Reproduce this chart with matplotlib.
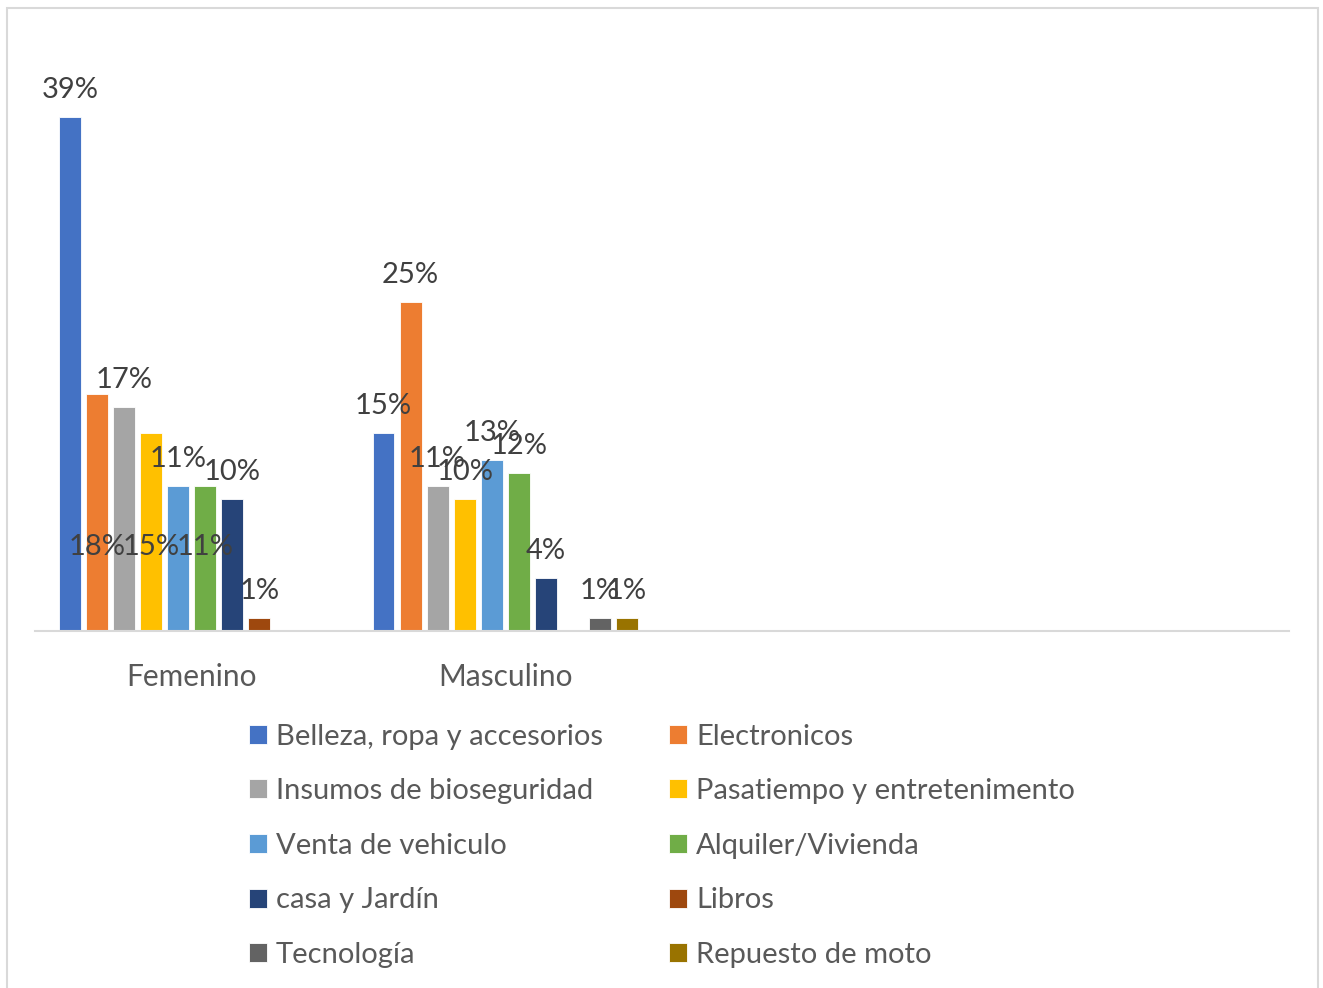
"""
Compras en línea por género y categoría de producto (barras agrupadas).
"""
import matplotlib.pyplot as plt
from matplotlib.patches import Rectangle
import numpy as np

# ------------------------------------------------------------------
# Datos
# ------------------------------------------------------------------
GENEROS = ["Femenino", "Masculino", "", ""]

CATEGORIAS = [
    "Belleza, ropa y accesorios",
    "Electronicos",
    "Insumos de bioseguridad",
    "Pasatiempo y entretenimento",
    "Venta de vehiculo",
    "Alquiler/Vivienda",
    "casa y Jardín",
    "Libros",
    "Tecnología",
    "Repuesto de moto",
]

# porcentaje por categoría: [Femenino, Masculino]
BELLEZA = [39, 15]
ELECTRONICOS = [18, 25]
INSUMOS = [17, 11]
PASATIEMPO = [15, 10]
VENTA_VEHICULO = [11, 13]
ALQUILER = [11, 12]
CASA_JARDIN = [10, 4]
LIBROS = [1, 0]
TECNOLOGIA = [0, 1]
REPUESTO_MOTO = [0, 1]

SERIES = [BELLEZA, ELECTRONICOS, INSUMOS, PASATIEMPO, VENTA_VEHICULO,
          ALQUILER, CASA_JARDIN, LIBROS, TECNOLOGIA, REPUESTO_MOTO]

COLORES = ["#4472C4", "#ED7D31", "#A5A5A5", "#FFC000", "#5B9BD5",
           "#70AD47", "#264478", "#9E480E", "#636363", "#997300"]

# etiquetas que van en la base de la barra (género, categoría)
ETIQUETA_BASE = {(0, 1), (0, 3), (0, 5)}

FUENTE = "Lato"
GRIS_TEXTO = "#404040"
GRIS_EJE = "#595959"
TAM = 21

# ------------------------------------------------------------------
# Gráfico
# ------------------------------------------------------------------
fig = plt.figure(figsize=(13.23, 9.88), dpi=100)
ax = fig.add_axes([35 / 1323, 1 - 631 / 988, (1289 - 35) / 1323, (631 - 38) / 988])

x = np.arange(len(GENEROS))
paso = 0.0863
ancho = 0.070
n = len(SERIES)

for i, (serie, color) in enumerate(zip(SERIES, COLORES)):
    pos = x[:len(serie)] + (i - (n - 1) / 2) * paso
    ax.bar(pos, serie, width=ancho, color=color, label=CATEGORIAS[i],
           edgecolor="white", linewidth=0.6)
    for g, (xp, v) in enumerate(zip(pos, serie)):
        if v == 0:
            continue
        if (g, i) in ETIQUETA_BASE:
            ax.annotate(f"{v}%", (xp, 0), xytext=(0, 54.7), textcoords="offset points",
                        ha="center", va="baseline", fontsize=TAM, color=GRIS_TEXTO,
                        family=FUENTE)
        else:
            ax.annotate(f"{v}%", (xp, v), xytext=(0, 13.7), textcoords="offset points",
                        ha="center", va="baseline", fontsize=TAM, color=GRIS_TEXTO,
                        family=FUENTE)

ax.set_xlim(-0.5, len(GENEROS) - 0.5)
ax.set_ylim(0, 45)
ax.set_xticks(x)
ax.set_xticklabels(GENEROS, fontsize=21.5, color=GRIS_EJE, family=FUENTE)
ax.tick_params(axis="x", length=0, pad=23)
ax.set_yticks([])
for lado in ["top", "right", "left"]:
    ax.spines[lado].set_visible(False)
ax.spines["bottom"].set_color("#D9D9D9")
ax.spines["bottom"].set_linewidth(1.5)

# leyenda en dos columnas, ordenada por filas
handles, labels = ax.get_legend_handles_labels()
orden = list(range(0, n, 2)) + list(range(1, n, 2))
leg = fig.legend([handles[k] for k in orden], [labels[k] for k in orden],
                 ncol=2, loc="upper left", bbox_to_anchor=(234 / 1323, 1 - 709 / 988),
                 frameon=False, prop={"family": FUENTE, "size": TAM},
                 handlelength=0.62, handleheight=0.62, handletextpad=0.32,
                 columnspacing=2.25, labelspacing=0.98, borderpad=0)
for t in leg.get_texts():
    t.set_color(GRIS_EJE)

# marco del área del gráfico
fig.patches.append(Rectangle((7 / 1323, -0.01), 1311 / 1323, 1 - 8 / 988 + 0.01,
                             transform=fig.transFigure, fill=False,
                             edgecolor="#D9D9D9", linewidth=1.5))

fig.savefig("out.png", dpi=100)
